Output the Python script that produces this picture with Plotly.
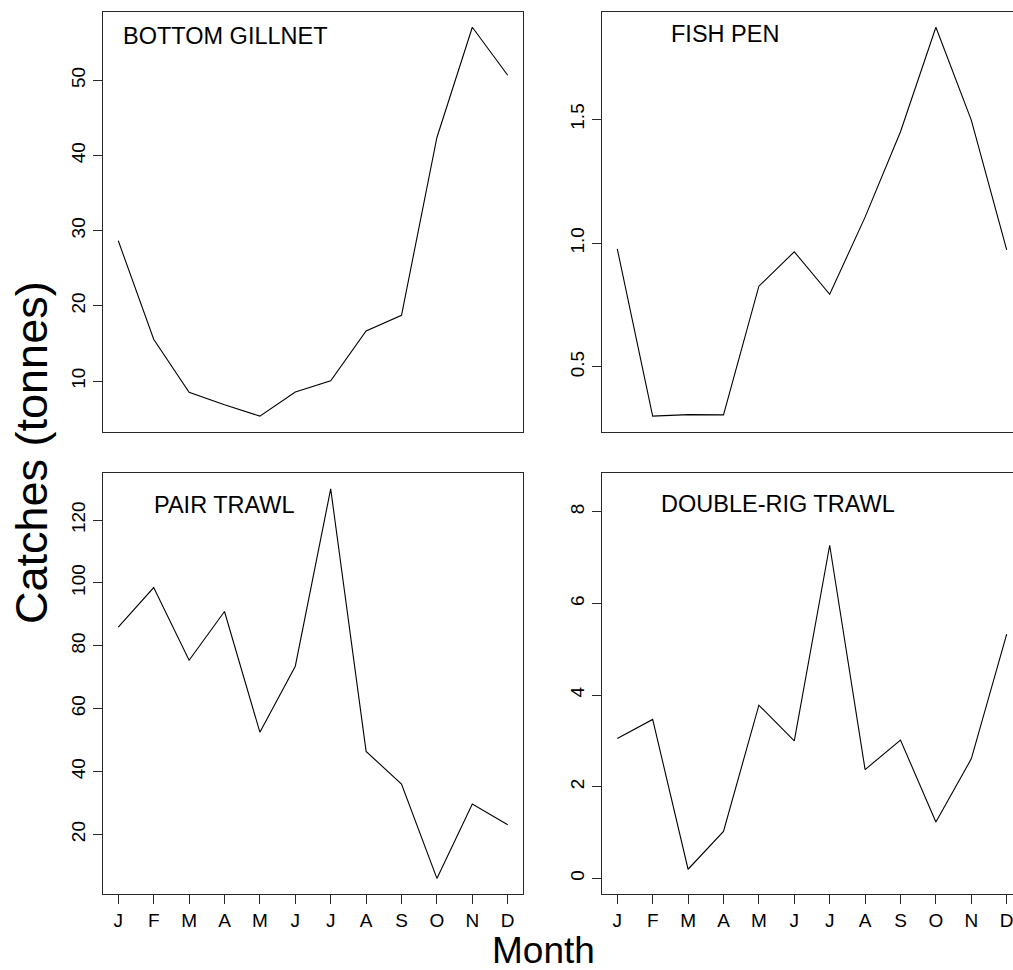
import plotly.graph_objects as go

months = ["J", "F", "M", "A", "M", "J", "J", "A", "S", "O", "N", "D"]
month_idx = list(range(1, 13))

bottom_gillnet = [28.66, 15.55, 8.5, 6.85, 5.33, 8.54, 10.04, 16.65, 18.74, 42.4, 57.06, 50.67]
fish_pen = [0.977, 0.301, 0.307, 0.306, 0.826, 0.965, 0.793, 1.105, 1.45, 1.872, 1.497, 0.973]
pair_trawl = [85.9, 98.5, 75.4, 90.9, 52.5, 73.5, 129.9, 46.4, 36.0, 6.0, 29.7, 23.1]
double_rig = [3.055, 3.47, 0.2, 1.025, 3.78, 3.0, 7.27, 2.375, 3.02, 1.23, 2.61, 5.33]

titles = ["BOTTOM GILLNET", "FISH PEN", "PAIR TRAWL", "DOUBLE-RIG TRAWL"]
ticks1 = [10, 20, 30, 40, 50]
ticks2 = [0.5, 1.0, 1.5]
ticks3 = [20, 40, 60, 80, 100, 120]
ticks4 = [0, 2, 4, 6, 8]

W, H = 1013, 970
FONT = "Liberation Sans, Arial, sans-serif"
LINE_COL = "#2a2a2a"


def px(x):
    return x / W


def py(y):
    return 1 - y / H


def rrange(vals, lim=None):
    lo, hi = (min(vals), max(vals)) if lim is None else lim
    d = hi - lo
    return [lo - 0.04 * d, hi + 0.04 * d]


fig = go.Figure()

panels = [
    dict(data=bottom_gillnet, ticks=ticks1, fmt="", xd=[102.7, 523.3], yd=[11.7, 431.7], xr=[0.56, 12.44], full=True, xt=False, yr=rrange(bottom_gillnet)),
    dict(data=fish_pen, ticks=ticks2, fmt=".1f", xd=[601.7, 1013], yd=[11.7, 431.7], xr=[0.56, 12.178], full=False, xt=False, yr=rrange(fish_pen)),
    dict(data=pair_trawl, ticks=ticks3, fmt="", xd=[102.7, 523.3], yd=[473.3, 894], xr=[0.56, 12.44], full=True, xt=True, yr=rrange(pair_trawl)),
    dict(data=double_rig, ticks=ticks4, fmt="", xd=[601.7, 1013], yd=[473.3, 894], xr=[0.56, 12.178], full=False, xt=True, yr=rrange(double_rig, (0, 8.5))),
]

layout_axes = {}
for i, p in enumerate(panels, start=1):
    xa = "x" if i == 1 else f"x{i}"
    ya = "y" if i == 1 else f"y{i}"
    fig.add_trace(go.Scatter(x=month_idx, y=p["data"], mode="lines",
                             line=dict(color="black", width=1.1),
                             xaxis=xa, yaxis=ya, showlegend=False, hoverinfo="skip"))
    xkey = "xaxis" if i == 1 else f"xaxis{i}"
    ykey = "yaxis" if i == 1 else f"yaxis{i}"
    layout_axes[xkey] = dict(
        domain=[px(p["xd"][0]), px(p["xd"][1])],
        range=p["xr"], anchor=ya,
        showgrid=False, zeroline=False,
        showline=True, mirror=True, linecolor=LINE_COL, linewidth=1.3,
        tickmode="array", tickvals=month_idx if p["xt"] else [],
        ticktext=months if p["xt"] else [],
        ticks="outside" if p["xt"] else "", ticklen=9, tickwidth=1.2, tickcolor=LINE_COL,
        showticklabels=p["xt"], ticklabeloverflow="allow",
        tickfont=dict(family=FONT, size=19, color="black"),
    )
    layout_axes[ykey] = dict(
        domain=[py(p["yd"][1]), py(p["yd"][0])],
        range=p["yr"], anchor=xa,
        showgrid=False, zeroline=False,
        showline=True, mirror=p["full"], linecolor=LINE_COL, linewidth=1.3,
        tickmode="array", tickvals=p["ticks"], tickformat=p["fmt"],
        ticks="outside", ticklen=9, tickwidth=1.2, tickcolor=LINE_COL,
        tickangle=-90, ticklabeloverflow="allow",
        tickfont=dict(family=FONT, size=19, color="black"),
    )

fig.update_layout(**layout_axes)

ann = []
title_pos = [(120.5, 36), (668.5, 34), (152, 505), (659, 503.6)]
for t, (x, y) in zip(titles, title_pos):
    ann.append(dict(text=t, x=px(x), y=py(y), xref="paper", yref="paper",
                    xanchor="left", yanchor="middle", showarrow=False,
                    font=dict(family=FONT, size=23.5, color="black")))
ann.append(dict(text="Catches (tonnes)", x=px(31), y=py(453), xref="paper", yref="paper",
                xanchor="center", yanchor="middle", textangle=-90, showarrow=False,
                font=dict(family=FONT, size=45, color="black")))
ann.append(dict(text="Month", x=px(543), y=py(950), xref="paper", yref="paper",
                xanchor="center", yanchor="middle", showarrow=False,
                font=dict(family=FONT, size=37, color="black")))

fig.update_layout(
    width=W, height=H,
    margin=dict(l=0, r=0, t=0, b=0),
    paper_bgcolor="white", plot_bgcolor="white",
    annotations=ann,
)

fig.write_html("out.html")
